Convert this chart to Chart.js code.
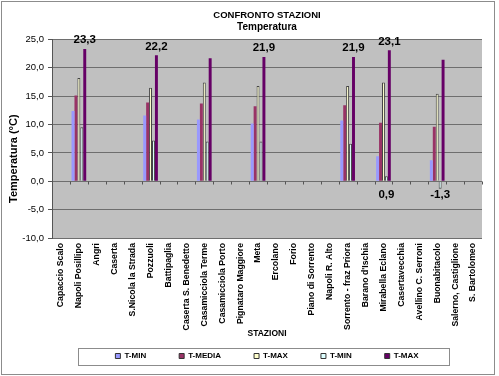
<!DOCTYPE html>
<html><head><meta charset="utf-8">
<script src="https://cdn.jsdelivr.net/npm/chart.js@4"></script>
<style>html,body{margin:0;padding:0;background:#fff}</style>
</head><body>
<canvas id="c" width="499" height="376"></canvas>
<script>
const N = null;
const stations = ["Capaccio Scalo","Napoli Posillipo","Angri","Caserta","S.Nicola la Strada","Pozzuoli","Battipaglia","Caserta S. Benedetto","Casamicciola Terme","Casamicciola Porto","Pignataro Maggiore","Meta","Ercolano","Forio","Piano di Sorrento","Napoli R. Alto","Sorrento - fraz Priora","Barano d'Ischia","Mirabella Eclano","Casertavecchia","Avellino C. Serroni","Buonabitacolo","Salerno, Castiglione","S. Bartolomeo"];
const tMin   = [N,12.4,N,N,N,11.6,N,N,10.9,N,N,10.2,N,N,N,N,10.7,N,4.4,N,N,3.7,N,N];
const tMedia = [N,15.1,N,N,N,13.9,N,N,13.7,N,N,13.2,N,N,N,N,13.4,N,10.3,N,N,9.6,N,N];
const tMax   = [N,18.2,N,N,N,16.5,N,N,17.4,N,N,16.8,N,N,N,N,16.8,N,17.4,N,N,15.4,N,N];
const tMin2  = [N,9.5,N,N,N,7.2,N,N,7.0,N,N,7.0,N,N,N,N,6.6,N,0.9,N,N,-1.3,N,N];
const tMax2  = [N,23.3,N,N,N,22.2,N,N,21.7,N,N,21.9,N,N,N,N,21.9,N,23.1,N,N,21.4,N,N];
const maxLabelIdx = [1,5,11,16,18];
const minLabelIdx = [18,21];
const seriesNames = ["T-MIN","T-MEDIA","T-MAX","T-MIN","T-MAX"];
const yTicks = {min:-10, max:25, step:5};
const yTitle = 'Temperatura (°C)';

const FONT = '"Liberation Sans", Arial, sans-serif';
const fmt = v => v.toFixed(1).replace('.', ',');

const frame = {
  id:'frame',
  beforeDraw(chart){
    const {ctx, chartArea:a} = chart;
    ctx.save();
    ctx.fillStyle='#fff'; ctx.fillRect(0,0,chart.width,chart.height);
    ctx.strokeStyle='#8c8c8c'; ctx.lineWidth=1;
    ctx.strokeRect(1.5,1.5,493,373);
    ctx.fillStyle='#c0c0c0'; ctx.fillRect(a.left,a.top,a.right-a.left,a.bottom-a.top);
    ctx.restore();
  },
  afterDatasetsDraw(chart){
    const ctx = chart.ctx, x = chart.scales.x, y = chart.scales.y;
    const y0 = Math.round(y.getPixelForValue(0))+0.5;
    ctx.save();
    ctx.strokeStyle='#555'; ctx.lineWidth=1;
    const n = stations.length, w = x.width/n;
    ctx.beginPath();
    for(let i=0;i<=n;i++){const px=Math.round(x.left+i*w)+0.5; ctx.moveTo(px,y0); ctx.lineTo(px,y0+3);}
    ctx.stroke();
    ctx.fillStyle='#000'; ctx.textAlign='center';
    ctx.font='bold 11.5px '+FONT;
    const m4 = chart.getDatasetMeta(4);
    ctx.textBaseline='bottom';
    maxLabelIdx.forEach(i=>{const el=m4.data[i]; ctx.fillText(fmt(tMax2[i]), el.x, el.y-3);});
    const m3 = chart.getDatasetMeta(3);
    ctx.textBaseline='middle';
    minLabelIdx.forEach(i=>{const el=m3.data[i]; ctx.fillText(fmt(tMin2[i]), el.x, y.getPixelForValue(0)+14);});
    // y axis title
    ctx.save();
    ctx.translate(14, (y.top + y.bottom)/2 + 20);
    ctx.rotate(-Math.PI/2);
    ctx.font = 'bold 11px ' + FONT;
    ctx.textBaseline = 'middle';
    ctx.fillText(yTitle, 0, 0);
    ctx.restore();
    ctx.restore();
  },
  afterDraw(chart){
    const hb = chart.legend.legendHitBoxes;
    if(!hb || !hb.length) return;
    const ctx = chart.ctx;
    const l = hb[0].left - 37, r = hb[hb.length-1].left + hb[hb.length-1].width + 31;
    const t = hb[0].top - 4, b = hb[0].top + 13;
    ctx.save(); ctx.strokeStyle='#8c8c8c'; ctx.lineWidth=1;
    ctx.strokeRect(Math.round(l)+0.5, Math.round(t)+0.5, Math.round(r-l), Math.round(b-t));
    ctx.restore();
  }
};

const colors = ['#9999FF','#993366','#FFFFCC','#DDFFFF','#660066'];
const borders = [0,0,1,1,0];
const data = [tMin,tMedia,tMax,tMin2,tMax2];

new Chart(document.getElementById('c'), {
  type:'bar',
  data:{
    labels: stations,
    datasets: data.map((d,i)=>({
      label: seriesNames[i], data: d,
      backgroundColor: colors[i], borderColor:'#444', borderWidth: borders[i],
      barPercentage: 1.0, categoryPercentage: 0.82
    }))
  },
  options:{
    responsive:false, animation:false, devicePixelRatio:1,
    layout:{padding:{left:0,right:17,top:0,bottom:6}},
    plugins:{
      title:{display:true, fullSize:false, text:'CONFRONTO STAZIONI', color:'#000', font:{family:FONT,size:9.5,weight:'bold'}, padding:{top:10,bottom:0}},
      subtitle:{display:true, fullSize:false, text:'Temperatura', color:'#000', font:{family:FONT,size:10,weight:'bold'}, padding:{top:0,bottom:6}},
      legend:{position:'bottom', fullSize:false,
        title:{display:true, text:'', font:{size:1}, padding:{top:-13.2,bottom:0}},
        labels:{
        color:'#000', font:{family:FONT,size:8,weight:'bold'}, boxWidth:5, boxHeight:5, padding:33,
        generateLabels(chart){
          const items = Chart.defaults.plugins.legend.labels.generateLabels(chart);
          items.forEach(it=>{it.strokeStyle='#333'; it.lineWidth=1;});
          return items;
        }
      }},
      tooltip:{enabled:false}
    },
    scales:{
      x:{
        grid:{display:false, drawTicks:false}, border:{display:false},
        ticks:{autoSkip:false, minRotation:90, maxRotation:90, padding:5, color:'#000', font:{family:FONT,size:8.7,weight:'bold'}},
        title:{display:true, text:'STAZIONI', color:'#000', font:{family:FONT,size:8.5,weight:'bold'}, padding:{top:0,bottom:-8}},
        afterFit(s){ s.height = 93; }
      },
      y:{
        min:yTicks.min, max:yTicks.max,
        grid:{color:'#6e6e6e', tickColor:'#555', tickLength:4, drawTicks:true},
        border:{display:true, color:'#555'},
        ticks:{stepSize:yTicks.step, padding:4, color:'#000', font:{family:FONT,size:9.5}, callback:v=>fmt(v)},
        title:{display:false},
        afterFit(s){ s.width = 52; }
      }
    }
  },
  plugins:[frame]
});
</script>
</body></html>
